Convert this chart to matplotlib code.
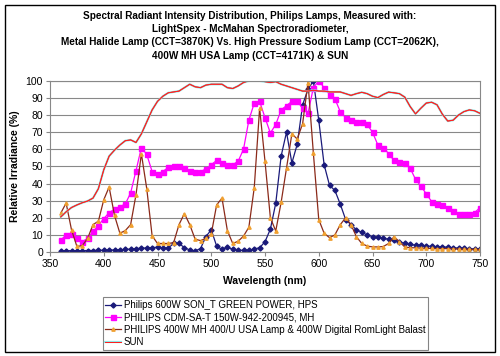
import matplotlib.pyplot as plt
import matplotlib.patheffects as pe
from matplotlib.patches import Rectangle

plt.rcParams['font.family'] = ['Liberation Sans', 'DejaVu Sans']

wavelength = list(range(360, 751, 5))

hps = [0.8, 0.8, 0.8, 0.8, 0.8, 0.9, 0.9, 1.0, 1.0, 1.1, 1.2, 1.3, 1.5, 1.7, 2.0, 2.2,
       2.4, 2.6, 2.8, 2.4, 2.4, 5.0, 5.0, 2.6, 1.2, 0.7, 2.0, 9.0, 13.0, 3.5, 1.5, 3.0,
       1.5, 1.0, 1.0, 1.0, 1.8, 2.5, 6.0, 13.4, 28.5, 56.0, 70.0, 52.0, 63.0, 86.0, 95.0,
       100.0, 77.0, 51.0, 39.0, 36.0, 28.0, 19.0, 16.0, 13.0, 11.5, 10.0, 9.0, 8.5, 8.0,
       7.5, 7.0, 6.0, 5.0, 4.5, 4.0, 4.0, 3.5, 3.3, 3.0, 3.0, 2.8, 2.5, 2.3, 2.1, 2.0,
       1.8, 1.7]

cdm = [7.0, 10.0, 10.5, 8.0, 6.0, 8.0, 12.0, 15.5, 19.5, 23.0, 25.0, 26.5, 28.0, 34.5,
       47.5, 61.0, 57.0, 47.0, 45.5, 47.0, 49.5, 50.5, 50.0, 49.0, 47.5, 46.5, 47.0, 48.5,
       51.0, 53.5, 52.0, 51.0, 51.0, 53.0, 60.0, 77.0, 87.0, 88.0, 78.5, 69.5, 74.5, 83.0,
       85.5, 88.0, 88.0, 84.0, 81.0, 96.0, 100.0, 96.0, 92.0, 89.5, 82.0, 78.5, 77.3,
       76.2, 75.7, 74.5, 70.0, 62.5, 61.0, 57.5, 53.5, 52.5, 52.0, 49.0, 42.5, 38.5, 34.0,
       29.5, 28.0, 27.5, 26.0, 24.0, 22.5, 22.0, 22.0, 23.0, 26.0]

mh_usa = [22.7, 28.6, 13.0, 3.3, 3.7, 8.0, 16.0, 18.0, 30.5, 38.0, 21.4, 11.0, 12.5, 16.0,
          33.5, 57.4, 37.0, 9.5, 5.0, 5.0, 5.0, 5.5, 16.0, 22.5, 16.0, 7.5, 6.7, 8.0, 10.5,
          27.5, 31.5, 12.5, 5.0, 6.3, 9.3, 14.5, 37.6, 84.0, 53.0, 20.0, 12.3, 29.0, 49.0,
          69.0, 66.0, 75.0, 99.0, 57.7, 19.0, 11.0, 8.4, 10.0, 16.0, 20.0, 16.0, 9.0, 5.0,
          3.5, 3.0, 3.0, 3.2, 5.0, 9.0, 6.0, 3.0, 2.5, 2.5, 2.3, 2.2, 2.1, 2.0, 2.0, 2.0,
          1.9, 1.8, 1.7, 1.6, 1.5, 1.5]

sun = [20.5, 23.5, 26.0, 27.5, 28.8, 29.8, 31.5, 37.0, 48.0, 56.0, 59.5, 62.5, 65.0, 65.5,
       64.0, 69.0, 76.0, 83.0, 88.0, 91.0, 93.0, 93.5, 94.0, 96.0, 98.0, 96.5, 96.0, 97.5,
       98.0, 98.0, 98.0, 96.0, 95.5, 97.0, 99.0, 100.0, 100.0, 100.0, 99.5, 99.0, 99.5,
       98.0, 97.0, 96.0, 95.0, 94.0, 94.0, 94.5, 94.0, 94.0, 93.5, 93.5, 93.5, 92.5, 91.5,
       92.5, 93.3, 92.5, 91.0, 90.2, 92.0, 93.4, 93.0, 92.5, 90.5, 85.0, 80.7, 84.0, 87.0,
       87.5, 86.0, 80.5, 76.5, 77.0, 80.0, 82.0, 83.0, 82.5, 81.0]

labels = ['Philips 600W SON_T GREEN POWER, HPS',
          'PHILIPS CDM-SA-T 150W-942-200945, MH',
          'PHILIPS 400W MH 400/U USA Lamp & 400W Digital RomLight Balast',
          'SUN']

fig = plt.figure(figsize=(5, 3.56), dpi=100)
ax = fig.add_axes([0.1, 0.292, 0.86, 0.481])

ax.plot(wavelength, hps, color='#1a1a7a', lw=0.9, marker='D', ms=2.6, label=labels[0])
ax.plot(wavelength, cdm, color='#ff00ff', lw=0.9, marker='s', ms=3.6, label=labels[1])
ax.plot(wavelength, mh_usa, color='#8b2a1a', lw=0.9, marker='^', ms=2.4,
        mfc='#f0a030', mec='#f0a030', label=labels[2])
ax.plot(wavelength, sun, color='#ff2020', lw=0.7, label=labels[3],
        path_effects=[pe.withStroke(linewidth=1.6, foreground='#90e8e8'), pe.Normal()])

ax.set_xlim(350, 750)
ax.set_ylim(0, 100)
ax.set_xticks(range(350, 751, 50))
ax.set_yticks(range(0, 101, 10))
ax.grid(axis='y', color='#888888', lw=0.8)
ax.set_axisbelow(True)
for s in ax.spines.values():
    s.set_color('#888888')
ax.tick_params(labelsize=7.5, length=3, color='#888888', pad=2)
ax.set_xlabel('Wavelength (nm)', fontsize=7.5, fontweight='bold', labelpad=5)
ax.set_ylabel('Relative Irradiance (%)', fontsize=7.5, fontweight='bold', labelpad=4)

fig.text(0.5, 0.968, 'Spectral Radiant Intensity Distribution, Philips Lamps, Measured with:\n'
         'LightSpex - McMahan Spectroradiometer,\n'
         'Metal Halide Lamp (CCT=3870K) Vs. High Pressure Sodium Lamp (CCT=2062K),\n'
         '400W MH USA Lamp (CCT=4171K) & SUN',
         ha='center', va='top', fontsize=7.2, fontweight='bold', linespacing=1.38)

leg = fig.legend(loc='center', bbox_to_anchor=(0.531, 0.091), fontsize=7, frameon=True,
                 fancybox=False, edgecolor='#666666', handlelength=1.6, handletextpad=0.3,
                 borderpad=0.3, labelspacing=0.25, borderaxespad=0)
leg.get_frame().set_linewidth(0.8)

fig.patches.append(Rectangle((0.01, 0.01), 0.98, 0.975, transform=fig.transFigure,
                             fill=False, edgecolor='black', lw=1.0))

fig.savefig('out.png', dpi=100)
